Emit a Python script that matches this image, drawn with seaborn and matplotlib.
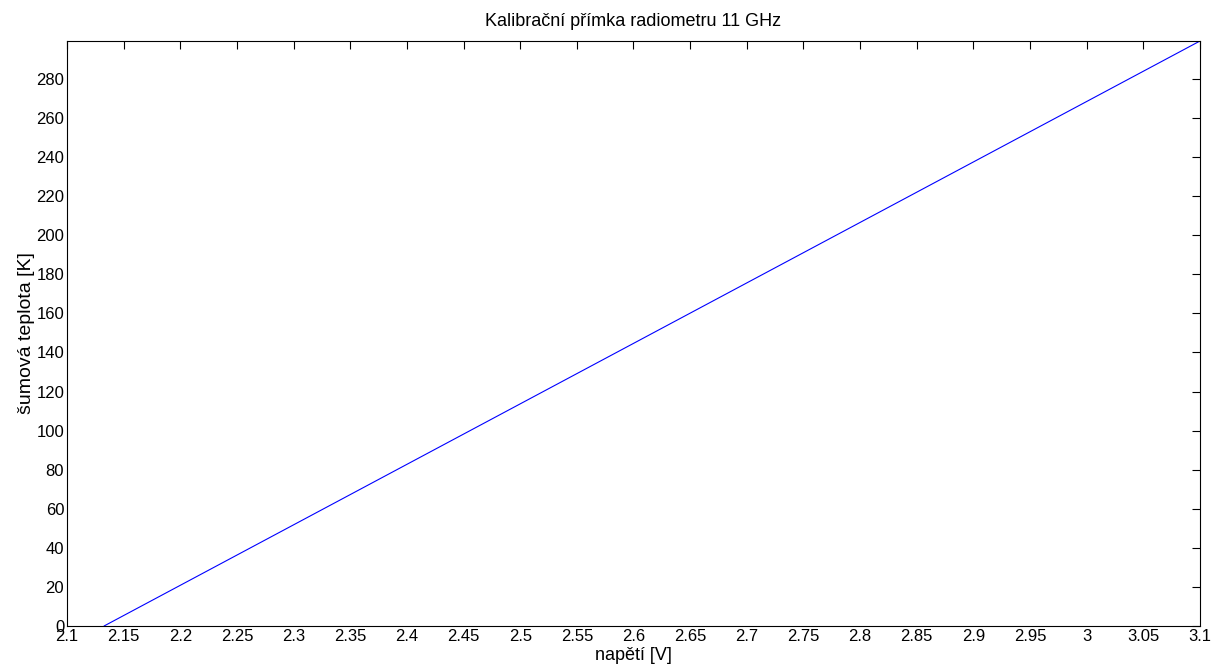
import matplotlib
matplotlib.use("Agg")
import matplotlib.pyplot as plt
import seaborn as sns
import numpy as np

# kalibrační body (napětí -> šumová teplota)
napeti = [2.1327, 3.1]
teplota = [0.0, 299.4]

xtick_labels = ['2.1', '2.15', '2.2', '2.25', '2.3', '2.35', '2.4', '2.45', '2.5', '2.55',
                '2.6', '2.65', '2.7', '2.75', '2.8', '2.85', '2.9', '2.95', '3', '3.05', '3.1']

sns.set_style("white")
plt.rcParams['font.family'] = ['Liberation Sans', 'DejaVu Sans']
plt.rcParams['text.color'] = 'black'
plt.rcParams['axes.labelcolor'] = 'black'
plt.rcParams['xtick.color'] = 'black'
plt.rcParams['ytick.color'] = 'black'

fig = plt.figure(figsize=(12.11, 6.71), dpi=100)
ax = fig.add_axes([67 / 1211, 1 - 626 / 671, (1200 - 67) / 1211, (626 - 41) / 671])

sns.lineplot(x=napeti, y=teplota, ax=ax, color='blue', linewidth=0.8)

ax.set_xlim(2.1, 3.1)
ax.set_ylim(0, 299.4)
ax.set_xticks(np.arange(2.1, 3.1001, 0.05))
ax.set_xticklabels(xtick_labels)
ax.set_yticks(np.arange(0, 281, 20))
ax.tick_params(direction='in', top=True, right=True, length=6, width=0.8, labelsize=12, pad=2)
for s in ax.spines.values():
    s.set_color('black')
    s.set_linewidth(0.8)

ax.set_title('Kalibrační přímka radiometru 11 GHz', fontsize=13, pad=11)
ax.set_xlabel('napětí [V]', fontsize=13, labelpad=2)
ax.set_ylabel('šumová teplota [K]', fontsize=14, labelpad=1)

fig.savefig('out.png', dpi=100, facecolor='white')
